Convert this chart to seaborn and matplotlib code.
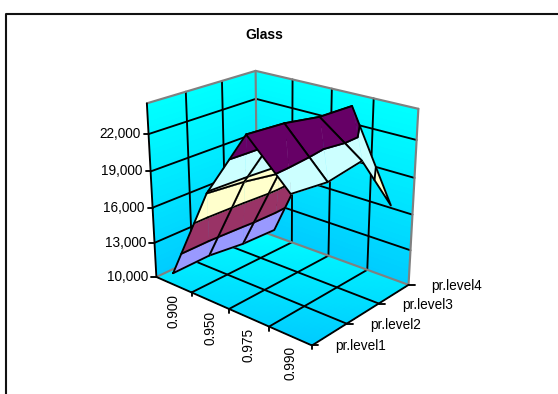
import numpy as np
import matplotlib
matplotlib.use("Agg")
import matplotlib.pyplot as plt
from matplotlib.lines import Line2D
from mpl_toolkits.mplot3d import proj3d
from mpl_toolkits.mplot3d.art3d import Poly3DCollection
import seaborn as sns

title = "Glass"
x_labels = ["0.900", "0.950", "0.975", "0.990"]
y_labels = ["pr.level1", "pr.level2", "pr.level3", "pr.level4"]
z_ticks = [10000, 13000, 16000, 19000, 22000]
z_top = 24400

# rows: x_labels, columns: y_labels
glass = np.array([
    [11000, 11050, 10670, 10570],
    [18800, 18500, 18000, 18500],
    [24200, 24000, 23500, 23400],
    [20900, 20550, 21000, 16200],
], dtype=float)

band_edges = [10000, 13000, 16000, 19000, 22000, 25000]
band_colors = ["#9999FF", "#993366", "#FFFFCC", "#CCFFFF", "#660066"]
grey = "#808080"
lw = 1.35

W, H = 558, 394
sns.set_style("white")
plt.rcParams["font.family"] = ["Liberation Sans", "DejaVu Sans"]
plt.rcParams["text.color"] = "black"
wall_cmap = sns.blend_palette(["#00FFFF", "#00CCFF"], 32, as_cmap=True)

fig = plt.figure(figsize=(W / 100, H / 100), dpi=100, facecolor="white")
ax = fig.add_axes([0, 0, 1, 1], projection="3d", computed_zorder=False)
ax.set_proj_type("persp", focal_length=0.57901)
ax.view_init(elev=22.526, azim=-49.229)
ax.set_box_aspect((1.33203, 1, 1.20135))
ax.set_axis_off()

# size and place the square axes so one projected unit is 1695.5 px
size = 1695.5 * 0.185
ax.set_position([0, 0, size / W, size / H])
o = ax.transData.transform([[0, 0], [0.01, 0]])
size *= 1695.5 * 0.01 / (o[1, 0] - o[0, 0])
ax.set_position([0, 0, size / W, size / H])
o = ax.transData.transform([0, 0])
ax.set_position([(281.44 - o[0]) / W, (H - 196.68 - o[1]) / H, size / W, size / H])


def to_px(x, y, z):
    xp, yp, _ = proj3d.proj_transform(x, y, z, ax.get_proj())
    return ax.transData.transform([float(xp), float(yp)])


def gradient(X, Y, Z, t):
    ax.plot_surface(X, Y, Z, facecolors=wall_cmap(t), shade=False, rstride=1, cstride=1,
                    antialiased=False, linewidth=0, zorder=1)


def clip(poly, level, keep_above):
    out = []
    for a, b in zip(poly, poly[1:] + poly[:1]):
        a_in = a[2] >= level if keep_above else a[2] <= level
        b_in = b[2] >= level if keep_above else b[2] <= level
        if a_in:
            out.append(a)
        if a_in != b_in:
            k = (level - a[2]) / (b[2] - a[2])
            out.append(tuple(a[i] + k * (b[i] - a[i]) for i in range(3)))
    return out


def draw_triangle(tri, order):
    for lo, hi, color in zip(band_edges, band_edges[1:], band_colors):
        piece = clip(tri, lo, True)
        if piece:
            piece = clip(piece, hi, False)
        if len(piece) >= 3:
            ax.add_collection3d(Poly3DCollection([piece], facecolor=color, edgecolor=color,
                                                 linewidth=0.3, zorder=order))
    for level in band_edges[1:-1]:
        cross = []
        for a, b in zip(tri, tri[1:] + tri[:1]):
            if (a[2] - level) * (b[2] - level) < 0:
                k = (level - a[2]) / (b[2] - a[2])
                cross.append(tuple(a[i] + k * (b[i] - a[i]) for i in range(3)))
        if len(cross) == 2:
            c = np.array(cross)
            ax.plot(c[:, 0], c[:, 1], c[:, 2], color="black", lw=lw, zorder=order + 0.5,
                    solid_capstyle="round")


# walls and floor
n = 32
zz = np.linspace(10000, z_top, n + 1)
tz = np.linspace(1, 0, n)[:, None]
uu = np.linspace(0, 4, n + 1)
vv = np.linspace(0, 3, n + 1)
U, V = np.meshgrid(uu, zz)
gradient(U, np.full_like(U, 3), V, np.repeat(tz, n, axis=1))
U, V = np.meshgrid(vv, zz)
gradient(np.zeros_like(U), U, V, np.repeat(tz, n, axis=1))
U, V = np.meshgrid(uu, vv)
mid_u, mid_v = np.meshgrid(uu[:-1] + 2 / n, vv[:-1] + 1.5 / n)
gradient(U, V, np.full_like(U, 10000.0), (mid_u / 4 + 1 - mid_v / 3) / 2)

# wall and floor gridlines
for z in z_ticks[1:]:
    ax.plot([0, 0, 4], [0, 3, 3], [z, z, z], color="black", lw=lw, zorder=2)
for x in [1, 2, 3]:
    ax.plot([x, x, x], [0, 3, 3], [10000, 10000, z_top], color="black", lw=lw, zorder=2)
for y in [1, 2]:
    ax.plot([4, 0, 0], [y, y, y], [10000, 10000, z_top], color="black", lw=lw, zorder=2)

# box outline
for xs, ys, zs in [([0, 0], [3, 3], [10000, z_top]), ([4, 4], [3, 3], [10000, z_top]),
                   ([0, 0, 4], [0, 3, 3], [z_top, z_top, z_top]),
                   ([0, 0, 4], [0, 3, 3], [10000, 10000, 10000])]:
    ax.plot(xs, ys, zs, color=grey, lw=lw + 0.2, zorder=3)
for xs, ys, zs in [([0, 0], [0, 0], [10000, z_top]), ([0, 4, 4], [0, 0, 3], [10000, 10000, 10000])]:
    ax.plot(xs, ys, zs, color="black", lw=lw, zorder=3)

# surface, painted cell by cell from the far corner to the near one
px = np.arange(len(x_labels)) + 0.5
py = np.arange(len(y_labels), dtype=float)
order = 10
for i in range(len(px) - 1):
    for j in range(len(py) - 2, -1, -1):
        a = (px[i], py[j], glass[i, j])
        b = (px[i + 1], py[j], glass[i + 1, j])
        c = (px[i + 1], py[j + 1], glass[i + 1, j + 1])
        d = (px[i], py[j + 1], glass[i, j + 1])
        draw_triangle([a, b, d], order)
        draw_triangle([b, c, d], order + 1)
        cell = np.array([a, b, c, d, a])
        ax.plot(cell[:, 0], cell[:, 1], cell[:, 2], color="black", lw=lw, zorder=order + 2,
                solid_joinstyle="round")
        order += 3

ax.set_xlim(0, 4)
ax.set_ylim(0, 3)
ax.set_zlim(10000, z_top)


def tick(p, dx, dy):
    fig.add_artist(Line2D([p[0] / W, (p[0] + dx) / W], [p[1] / H, (p[1] + dy) / H],
                          color="black", lw=lw, transform=fig.transFigure))


for z in z_ticks:
    p = to_px(0, 0, z)
    tick(p, -5, 0)
    fig.text((p[0] - 8) / W, p[1] / H, f"{z:,}", ha="right", va="center", fontsize=9.8)
for x in [1, 2, 3, 4]:
    tick(to_px(x, 0, 10000), 0, -4)
for x, label in zip(px, x_labels):
    p = to_px(x, 0, 10000)
    fig.text(p[0] / W, (p[1] - 10) / H, label, rotation=90, ha="center", va="top", fontsize=9.8)
for y, label in zip(py, y_labels):
    p = to_px(4, y, 10000)
    tick(p, 6, 0)
    fig.text((p[0] + 23) / W, (p[1] - 1) / H, label, ha="left", va="center", fontsize=9.8)

fig.text(264 / W, (H - 35) / H, title, ha="center", va="center", fontsize=10, fontweight="bold")

# chart frame: only the top and left sides show
fig.add_artist(Line2D([5.5 / W, 5.5 / W, 1], [0, (H - 14) / H, (H - 14) / H], color="#111111", lw=1.5,
                      transform=fig.transFigure))

fig.savefig("out.png", dpi=100)
